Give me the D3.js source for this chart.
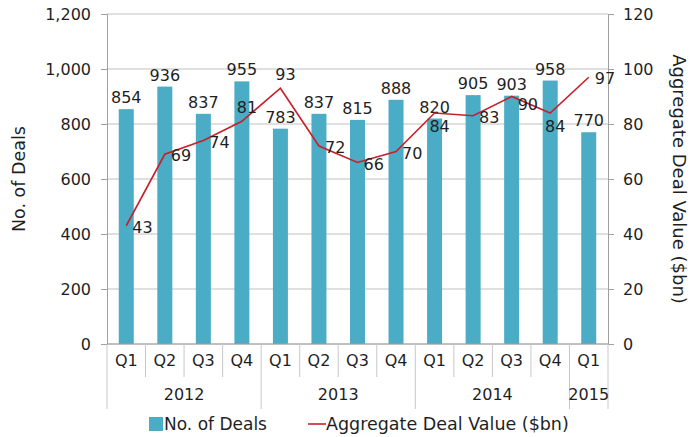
<!DOCTYPE html>
<html>
<head>
<meta charset="utf-8">
<script src="https://cdn.jsdelivr.net/npm/d3@7"></script>
<style>
  body { margin: 0; background: #fff; }
  text { font-family: "DejaVu Sans", sans-serif; fill: #1f1f1f; }
</style>
</head>
<body>
<script>
// chart data
const quarters = ["Q1", "Q2", "Q3", "Q4", "Q1", "Q2", "Q3", "Q4", "Q1", "Q2", "Q3", "Q4", "Q1"];
const years = ["2012", "2012", "2012", "2012", "2013", "2013", "2013", "2013", "2014", "2014", "2014", "2014", "2015"];
const deals = [854, 936, 837, 955, 783, 837, 815, 888, 820, 905, 903, 958, 770];
const dealValue = [43, 69, 74, 81, 93, 72, 66, 70, 84, 83, 90, 84, 97];
const valueLabelPos = ["right", "right", "right", "above", "above", "right", "right", "right", "below", "right", "lowright", "below", "right"];
const leftTicks = [0, 200, 400, 600, 800, 1000, 1200];
const rightTicks = [0, 20, 40, 60, 80, 100, 120];

const width = 691, height = 437;
const margin = { top: 14, right: 83, bottom: 93, left: 107 };
const x0 = margin.left, x1 = width - margin.right;
const y0 = height - margin.bottom, y1 = margin.top;

const svg = d3.select("body").append("svg")
  .attr("width", width)
  .attr("height", height);

const idx = d3.range(deals.length);
const x = d3.scaleBand().domain(idx).range([x0, x1]);
const yL = d3.scaleLinear().domain([0, 1200]).range([y0, y1]);
const yR = d3.scaleLinear().domain([0, 120]).range([y0, y1]);
const cx = i => x(i) + x.bandwidth() / 2;

// gridlines
svg.append("g")
  .selectAll("line")
  .data(leftTicks)
  .enter().append("line")
  .attr("x1", x0).attr("x2", x1)
  .attr("y1", d => yL(d)).attr("y2", d => yL(d))
  .style("stroke", "#c0c0c0")
  .style("stroke-width", 1);

// left axis
const gl = svg.append("g")
  .attr("transform", `translate(${x0},0)`)
  .call(d3.axisLeft(yL).tickValues(leftTicks).tickFormat(d3.format(",")).tickSize(6).tickPadding(10));
gl.select(".domain").style("stroke", "#a0a0a0");
gl.selectAll(".tick line").style("stroke", "#a0a0a0");
gl.selectAll("text").style("font-size", "16px").style("font-family", "DejaVu Sans").attr("fill", "#1f1f1f");

// right axis
const gr = svg.append("g")
  .attr("transform", `translate(${x1},0)`)
  .call(d3.axisRight(yR).tickValues(rightTicks).tickSize(6).tickPadding(9));
gr.select(".domain").style("stroke", "#a0a0a0");
gr.selectAll(".tick line").style("stroke", "#a0a0a0");
gr.selectAll("text").style("font-size", "16px").style("font-family", "DejaVu Sans").attr("fill", "#1f1f1f");

// bars
const barW = 15;
svg.append("g")
  .selectAll("rect")
  .data(deals)
  .enter().append("rect")
  .attr("x", (d, i) => cx(i) - barW / 2)
  .attr("y", d => yL(d))
  .attr("width", barW)
  .attr("height", d => yL(0) - yL(d))
  .attr("fill", "#4bacc6");

svg.append("g")
  .selectAll("text")
  .data(deals)
  .enter().append("text")
  .attr("x", (d, i) => cx(i))
  .attr("y", d => yL(d) - 6)
  .attr("text-anchor", "middle")
  .style("font-size", "16px")
  .text(d => d);

// x axis baseline
svg.append("line")
  .attr("x1", x0).attr("x2", x1)
  .attr("y1", y0).attr("y2", y0)
  .style("stroke", "#a0a0a0");

// category separators
svg.append("g")
  .selectAll("line")
  .data(d3.range(deals.length + 1))
  .enter().append("line")
  .attr("x1", i => x0 + i * x.step())
  .attr("x2", i => x0 + i * x.step())
  .attr("y1", y0)
  .attr("y2", i => (i === 0 || i === deals.length || years[i] !== years[i - 1]) ? y0 + 65 : y0 + 33)
  .style("stroke", "#c8c8c8");

svg.append("g")
  .selectAll("text")
  .data(quarters)
  .enter().append("text")
  .attr("x", (d, i) => cx(i))
  .attr("y", y0 + 22)
  .attr("text-anchor", "middle")
  .style("font-size", "16px")
  .text(d => d);

const yearGroups = d3.groups(idx, i => years[i]);
svg.append("g")
  .selectAll("text")
  .data(yearGroups)
  .enter().append("text")
  .attr("x", d => (x(d[1][0]) + x(d[1][d[1].length - 1]) + x.bandwidth()) / 2)
  .attr("y", y0 + 56)
  .attr("text-anchor", "middle")
  .style("font-size", "16px")
  .text(d => d[0]);

// line
const line = d3.line()
  .x((d, i) => cx(i))
  .y(d => yR(d));

svg.append("path")
  .datum(dealValue)
  .attr("d", line)
  .style("fill", "none")
  .style("stroke", "#c8202a")
  .style("stroke-width", 1.6);

svg.append("g")
  .selectAll("text")
  .data(dealValue)
  .enter().append("text")
  .attr("x", (d, i) => {
    const p = valueLabelPos[i];
    return (p === "right" || p === "lowright") ? cx(i) + 6 : cx(i) + 5;
  })
  .attr("y", (d, i) => {
    const p = valueLabelPos[i];
    if (p === "above") return yR(d) - 8;
    if (p === "below") return yR(d) + 19;
    if (p === "lowright") return yR(d) + 13;
    return yR(d) + 7;
  })
  .attr("text-anchor", (d, i) => (valueLabelPos[i] === "right" || valueLabelPos[i] === "lowright") ? "start" : "middle")
  .style("font-size", "16px")
  .text(d => d);

// axis titles
svg.append("text")
  .attr("transform", `translate(25,${(y0 + y1) / 2}) rotate(-90)`)
  .attr("text-anchor", "middle")
  .style("font-size", "17.5px")
  .text("No. of Deals");

svg.append("text")
  .attr("transform", `translate(673,${(y0 + y1) / 2}) rotate(90)`)
  .attr("text-anchor", "middle")
  .style("font-size", "18px")
  .text("Aggregate Deal Value ($bn)");

// legend
const lg = svg.append("g").attr("transform", "translate(0,424)");
lg.append("rect")
  .attr("x", 149).attr("y", -7)
  .attr("width", 14).attr("height", 14)
  .attr("fill", "#4bacc6");
lg.append("text")
  .attr("x", 164).attr("y", 6)
  .style("font-size", "17px")
  .text("No. of Deals");
lg.append("line")
  .attr("x1", 308).attr("x2", 326)
  .attr("y1", 0).attr("y2", 0)
  .style("stroke", "#c8202a")
  .style("stroke-width", 1.6);
lg.append("text")
  .attr("x", 326).attr("y", 6)
  .style("font-size", "17.5px")
  .text("Aggregate Deal Value ($bn)");
</script>
</body>
</html>
